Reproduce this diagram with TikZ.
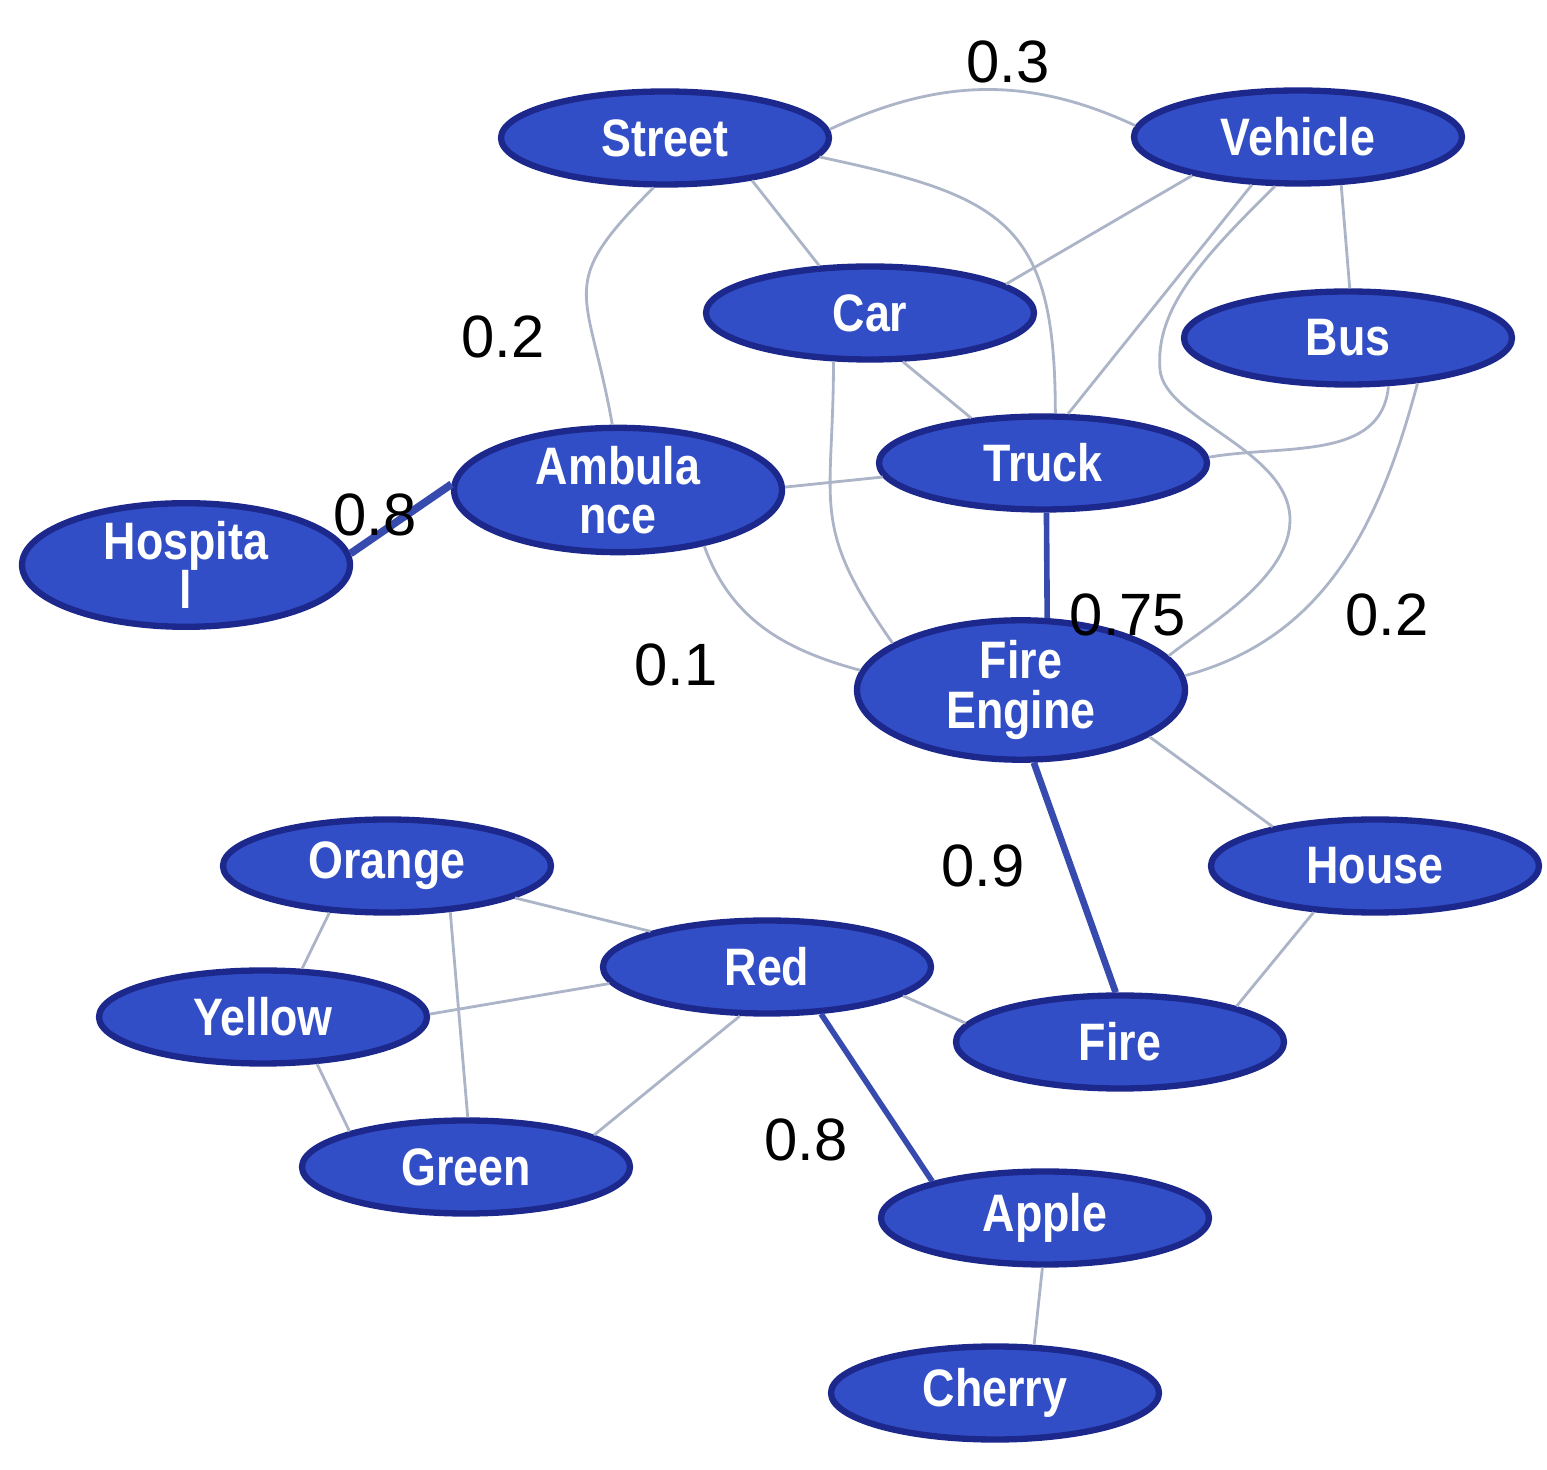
\documentclass[tikz,border=0pt]{standalone}
\usepackage{fontspec}
\usepackage{tikz}
\usetikzlibrary{shapes.geometric}
\newfontfamily\conceptfont[FakeStretch=0.85]{Liberation Sans}
\newfontfamily\weightfont{Liberation Sans}
\definecolor{conceptfill}{RGB}{50,78,198}
\definecolor{conceptline}{RGB}{28,40,140}
\definecolor{weakline}{RGB}{172,180,200}
\definecolor{strongline}{RGB}{55,75,175}
\tikzset{
    concept/.style={ellipse, draw=conceptline, fill=conceptfill, line width=1.8pt,
        minimum width=3.28cm, minimum height=0.93cm, inner sep=0pt, align=center,
        text=white, font=\conceptfont\bfseries\fontsize{15}{14}\selectfont},
    weak/.style={draw=weakline, line width=0.8pt},
    strong/.style={draw=strongline, line width=1.6pt},
    weight/.style={font=\weightfont\fontsize{17}{17}\selectfont}
}

\begin{document}
\begin{tikzpicture}
    \useasboundingbox (0,0) rectangle (15.47,14.69);
    \node[concept](street)      at (6.65,13.31) {Street};
    \node[concept](vehicle)     at (12.98,13.32) {Vehicle};
    \node[concept](car)         at (8.70,11.56) {Car};
    \node[concept](bus)         at (13.48,11.31) {Bus};
    \node[concept](truck)       at (10.43,10.06) {Truck};
    \node[concept](ambulance)   at (6.18,9.79) {Ambula\\nce};
    \node[concept](hospital)    at (1.86,9.04) {Hospita\\l};
    \node[concept](fireengine)  at (10.21,7.79) {Fire\\Engine};
    \node[concept](orange)      at (3.87,6.03) {Orange};
    \node[concept](house)       at (13.75,6.03) {House};
    \node[concept](red)         at (7.67,5.02) {Red};
    \node[concept](yellow)      at (2.63,4.52) {Yellow};
    \node[concept](fire)        at (11.20,4.27) {Fire};
    \node[concept](green)       at (4.66,3.02) {Green};
    \node[concept](apple)       at (10.45,2.51) {Apple};
    \node[concept](cherry)      at (9.95,0.76) {Cherry};
    % Links
    \path
        (street.3)
            edge [weak, out=25, in=155] (vehicle.176)
        (street.-7)
            edge [weak, out=-12, in=90, looseness=1.4] (truck.76)
        (street.-26)
            edge [weak] (car.137)
        (street.-103)
            edge [weak, out=-135, in=100, looseness=1.5] (ambulance.95)
        (vehicle.-160)
            edge [weak] (car.12)
        (vehicle.-134)
            edge [weak] (truck.63)
        (vehicle.-48)
            edge [weak] (bus.88)
        (car.-56)
            edge [weak] (truck.148)
        (car.-127)
            edge [weak, out=-90, in=125, looseness=1.3] (fireengine.160)
        (bus.-50)
            edge [weak, out=-95, in=10] (truck.2)
        (bus.-33)
            edge [weak, out=-105, in=15] (fireengine.5)
        (truck.-86)
            edge [strong] (fireengine.70)
        (truck.-175)
            edge [weak] (ambulance.1)
        (ambulance.-33)
            edge [weak, out=-70, in=165] (fireengine.173)
        (ambulance.178)
            edge [strong, line width=2.2pt] (hospital.4)
        (fireengine.-80)
            edge [strong, line width=1.9pt] (fire.95)
        (fireengine.-20)
            edge [weak] (house.159)
        (house.-143)
            edge [weak] (fire.17)
        (red.163)
            edge [weak] (orange.-14)
        (red.-174)
            edge [weak] (yellow.1)
        (red.-12)
            edge [weak] (fire.173)
        (red.-119)
            edge [weak] (green.14)
        (red.-41)
            edge [strong] (apple.162)
        (orange.-141)
            edge [weak] (yellow.51)
        (orange.-36)
            edge [weak] (green.88)
        (yellow.-41)
            edge [weak] (green.163)
        (apple.-93)
            edge [weak] (cherry.51)
        ;
    \draw[weak] (vehicle.-115) .. controls (12.00,12.09) and (11.55,11.59) .. (11.60,10.99)
        .. controls (11.65,10.49) and (12.90,10.19) .. (12.90,9.49)
        .. controls (12.90,8.89) and (12.00,8.39) .. (fireengine.13);
    % Weights
    \node[weight](w-sv) at (10.08,14.07) {0.3};
    \node[weight](w-sa) at (5.03,11.32) {0.2};
    \node[weight](w-ah) at (3.75,9.54) {0.8};
    \node[weight](w-vf) at (11.28,8.54) {0.75};
    \node[weight](w-bf) at (13.87,8.54) {0.2};
    \node[weight](w-af) at (6.76,8.04) {0.1};
    \node[weight](w-ff) at (9.83,6.03) {0.9};
    \node[weight](w-ra) at (8.06,3.29) {0.8};
\end{tikzpicture}
\end{document}
